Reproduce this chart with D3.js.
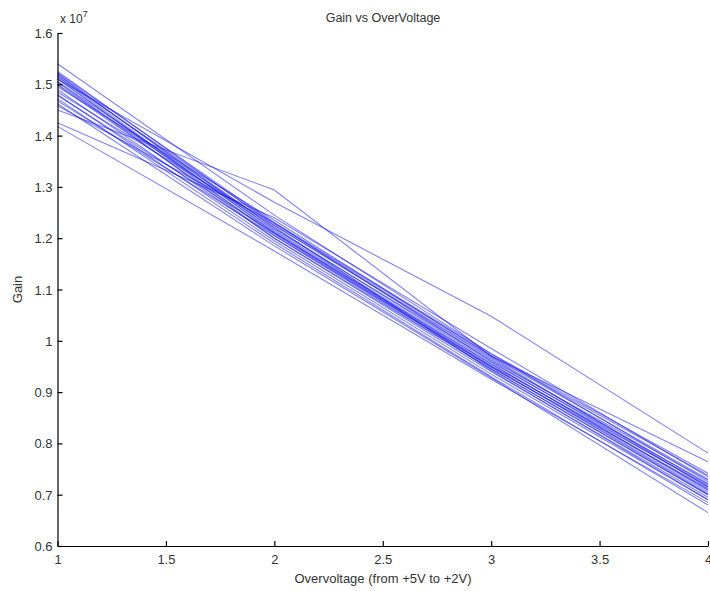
<!DOCTYPE html>
<html>
<head>
<meta charset="utf-8">
<script src="https://cdn.jsdelivr.net/npm/d3@7"></script>
<style>
  html, body { margin: 0; padding: 0; background: #fff; }
  svg { display: block; font-family: "Liberation Sans", Arial, sans-serif; }
</style>
</head>
<body>
<svg id="chart" width="710" height="591"></svg>
<script>
// ---- data (gain values in units of 1e7) ----
const voltages = [1, 2, 3, 4];
const xTicks = [1, 1.5, 2, 2.5, 3, 3.5, 4];
const yTicks = [0.6, 0.7, 0.8, 0.9, 1, 1.1, 1.2, 1.3, 1.4, 1.5, 1.6];
const series = [
  [1.540, 1.245, 0.975, 0.725],
  [1.525, 1.225, 0.965, 0.720],
  [1.522, 1.230, 0.960, 0.715],
  [1.520, 1.215, 0.955, 0.710],
  [1.518, 1.220, 0.958, 0.722],
  [1.515, 1.210, 0.950, 0.705],
  [1.512, 1.205, 0.945, 0.700],
  [1.510, 1.212, 0.952, 0.718],
  [1.505, 1.200, 0.940, 0.695],
  [1.500, 1.218, 0.962, 0.728],
  [1.498, 1.208, 0.948, 0.712],
  [1.495, 1.235, 0.970, 0.730],
  [1.490, 1.200, 0.945, 0.700],
  [1.485, 1.225, 0.968, 0.715],
  [1.480, 1.195, 0.935, 0.690],
  [1.478, 1.210, 0.955, 0.708],
  [1.472, 1.190, 0.930, 0.680],
  [1.468, 1.205, 0.950, 0.702],
  [1.462, 1.185, 0.928, 0.665],
  [1.458, 1.230, 0.975, 0.742],
  [1.450, 1.294, 0.970, 0.764],
  [1.510, 1.270, 1.048, 0.781],
  [1.425, 1.240, 0.985, 0.735],
  [1.418, 1.175, 0.925, 0.685],
  [1.505, 1.222, 0.942, 0.690],
  [1.515, 1.228, 0.972, 0.738]
];
const titleText = "Gain vs OverVoltage";
const xLabel = "Overvoltage (from +5V to +2V)";
const yLabel = "Gain";

// ---- layout ----
const margin = { left: 57.5, right: 2, top: 33, bottom: 45 };
const W = 710, H = 591;
const svg = d3.select("#chart");

const x = d3.scaleLinear().domain([1, 4]).range([margin.left, W - margin.right]);
const y = d3.scaleLinear().domain([0.6, 1.6]).range([H - margin.bottom, margin.top]);

// lines
const line = d3.line().x((d, i) => x(voltages[i])).y(d => y(d));
svg.append("g")
  .selectAll("path")
  .data(series)
  .join("path")
  .attr("d", line)
  .attr("fill", "none")
  .attr("stroke", "rgb(25,25,235)")
  .attr("stroke-opacity", 0.55)
  .attr("stroke-width", 1.1);

// axes
const xAxis = d3.axisBottom(x).tickValues(xTicks).tickFormat(d3.format("")).tickSizeInner(-5).tickSizeOuter(0).tickPadding(11);
const yAxis = d3.axisLeft(y).tickValues(yTicks).tickFormat(d => d3.format("")(d)).tickSizeInner(-5).tickSizeOuter(0).tickPadding(5);

const gx = svg.append("g").attr("transform", `translate(0,${H - margin.bottom})`).call(xAxis);
const gy = svg.append("g").attr("transform", `translate(${margin.left},0)`).call(yAxis);
[gx, gy].forEach(g => {
  g.select(".domain").attr("stroke", "#000").attr("stroke-width", 1.2);
  g.selectAll(".tick line").attr("stroke", "#000").attr("stroke-width", 1.2);
  g.selectAll(".tick text").attr("fill", "#333").style("font-size", "13px").style("font-family", "Liberation Sans, Arial, sans-serif");
});
gx.selectAll(".tick text").attr("dy", "0.55em");
gy.selectAll(".tick text").attr("dy", "0.35em");

// exponent label
const expo = svg.append("text").attr("x", 60).attr("y", 23).attr("fill", "#333")
  .style("font-size", "12px");
expo.append("tspan").text("x 10");
expo.append("tspan").attr("dy", -6).style("font-size", "9px").text("7");

// title
svg.append("text").attr("x", 383).attr("y", 22).attr("text-anchor", "middle")
  .attr("fill", "#333").style("font-size", "12.5px").text(titleText);

// x label
svg.append("text").attr("x", 383).attr("y", 583).attr("text-anchor", "middle")
  .attr("fill", "#333").style("font-size", "13px").text(xLabel);

// y label
svg.append("text").attr("transform", `translate(22,${(margin.top + H - margin.bottom) / 2}) rotate(-90)`)
  .attr("text-anchor", "middle").attr("fill", "#333").style("font-size", "13px").text(yLabel);
</script>
</body>
</html>
